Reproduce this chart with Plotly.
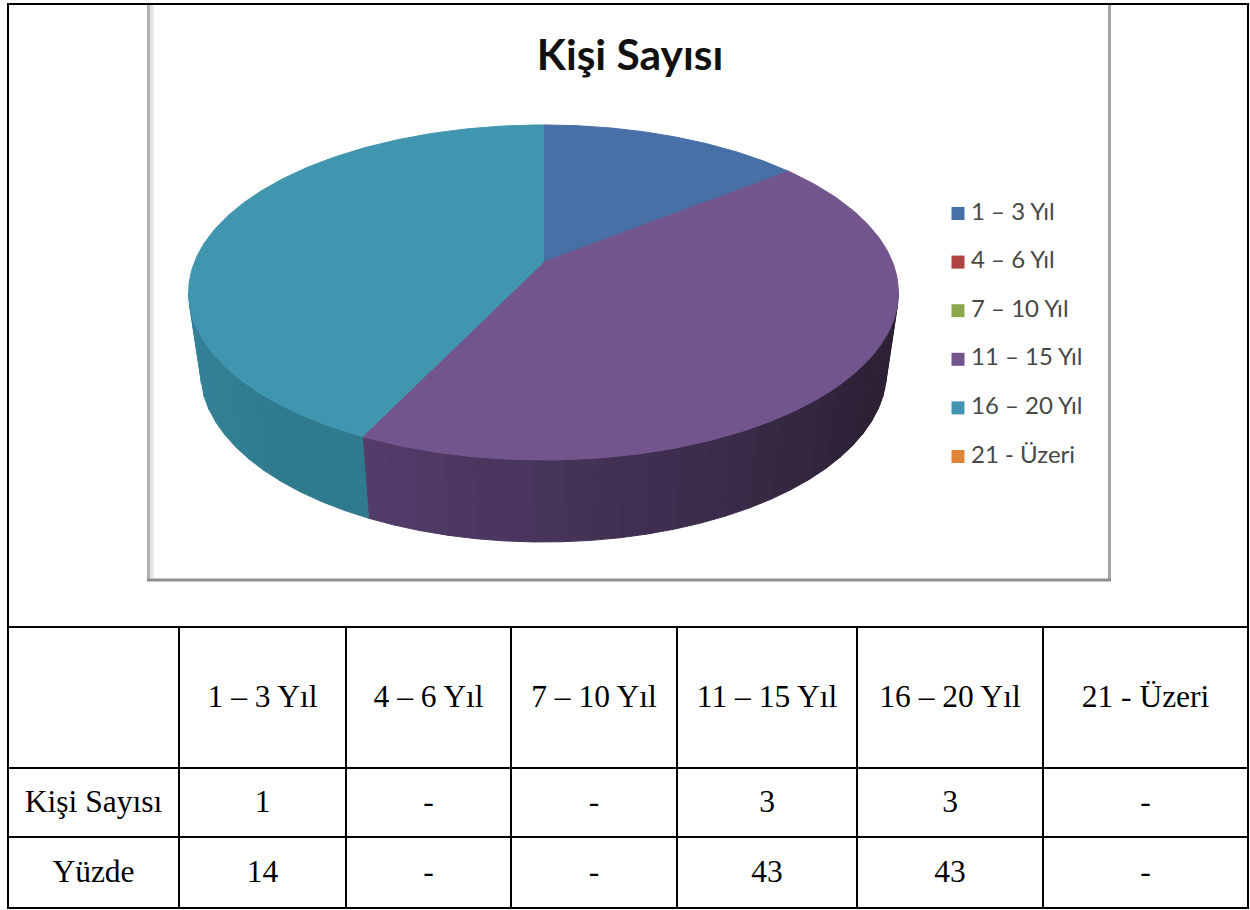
import numpy as np
import plotly.graph_objects as go

# ---- data ----
chart_title = "Kişi Sayısı"
categories = ["1 – 3 Yıl", "4 – 6 Yıl", "7 – 10 Yıl", "11 – 15 Yıl", "16 – 20 Yıl", "21 - Üzeri"]
counts = [1, 0, 0, 3, 3, 0]
count_labels = ["1", "-", "-", "3", "3", "-"]
percent_labels = ["14", "-", "-", "43", "43", "-"]
row_names = ["Kişi Sayısı", "Yüzde"]
slice_colors = ["#4670a6", "#b0423f", "#8aa84a", "#72558c", "#4096ae", "#e0843a"]
side_left = {3: "#553d6c", 4: "#36839a"}
side_right = {3: "#2c2135", 4: "#2f7a8e"}

# ---- layout constants ----
W, H = 1250, 910
col_x = [8, 179, 346, 511, 677, 857, 1043, 1248]
row_y = [4, 627, 768, 837, 908]
frame = (148.5, 4, 1109.5, 580)
apex = (543.5, 262.0)
k, sx, sy = 0.182, 349.0, 162.0
base_sx, base_sy, base_apex_y = 0.966, 1.015, 341.0


def rim(a, fx=1.0, fy=1.0, ay=apex[1]):
    d = 1 + k * np.cos(a)
    return apex[0] + fx * sx * np.sin(a) / d, ay - fy * sy * np.cos(a) / d


def hex_rgb(h):
    return np.array([int(h[i:i + 2], 16) for i in (1, 3, 5)], float)


fig = go.Figure()


def poly(x, y, color, name, lw=1):
    fig.add_trace(go.Scatter(x=x, y=y, mode="lines", fill="toself", fillcolor=color,
                             line=dict(color=color, width=lw), hoverinfo="skip",
                             showlegend=False, name=name))


total = sum(counts)
edges = 2 * np.pi * np.cumsum([0] + counts) / total
vis0 = np.arccos(-k)
vis1 = 2 * np.pi - vis0

# side wall, in shaded bands
for i, c in enumerate(counts):
    if c == 0:
        continue
    lo, hi = max(edges[i], vis0), min(edges[i + 1], vis1)
    if lo >= hi:
        continue
    n = max(2, int((hi - lo) / np.radians(4)))
    bands = np.linspace(lo, hi, n + 1)
    cr, cl = hex_rgb(side_right[i]), hex_rgb(side_left[i])
    for b0, b1 in zip(bands[:-1], bands[1:]):
        t = ((b0 + b1) / 2 - lo) / (hi - lo)
        t = np.clip((t - 0.22) / 0.78, 0, 1)
        col = cr + (cl - cr) * t
        aa = np.linspace(b0, b1, 6)
        xt, yt = rim(aa)
        xb, yb = rim(aa, base_sx, base_sy, base_apex_y)
        poly(np.r_[xt, xb[::-1], xt[0]], np.r_[yt, yb[::-1], yt[0]],
             "rgb(%d,%d,%d)" % tuple(col), categories[i] + " side")

# top face
for i, c in enumerate(counts):
    if c == 0:
        continue
    aa = np.linspace(edges[i], edges[i + 1], 200)
    xr, yr = rim(aa)
    poly(np.r_[apex[0], xr, apex[0]], np.r_[apex[1], yr, apex[1]], slice_colors[i], categories[i])

# legend
leg_y0, leg_dy = 213.5, 48.6
for i, name in enumerate(categories):
    fig.add_trace(go.Scatter(x=[958], y=[leg_y0 + i * leg_dy], mode="markers", showlegend=False,
                             marker=dict(symbol="square", size=13, color=slice_colors[i]), hoverinfo="skip"))
fig.add_trace(go.Scatter(x=[971] * 6, y=[leg_y0 + i * leg_dy for i in range(6)], mode="text",
                         text=categories, textposition="middle right", showlegend=False, hoverinfo="skip",
                         textfont=dict(family="Lato", size=24, color="#484848")))

# table text
cx = [(a + b) / 2 for a, b in zip(col_x[:-1], col_x[1:])]
ry = [(a + b) / 2 + 1.5 for a, b in zip(row_y[1:-1], row_y[2:])]
tx = cx[1:] + cx[1:] + cx[1:] + [cx[0], cx[0]]
ty = [ry[0]] * 6 + [ry[1]] * 6 + [ry[2]] * 6 + [ry[1], ry[2]]
tt = categories + count_labels + percent_labels + row_names
fig.add_trace(go.Scatter(x=tx, y=ty, mode="text", text=tt, textposition="middle center", showlegend=False,
                         hoverinfo="skip", textfont=dict(family="Liberation Serif", size=31.5, color="#000000")))

# title
fig.add_trace(go.Scatter(x=[630], y=[59], mode="text", text=["<b>" + chart_title + "</b>"],
                         textposition="middle center", showlegend=False, hoverinfo="skip",
                         textfont=dict(family="Lato", size=42.5, color="#111111")))

shapes = []
# chart frame, drawn under everything
fx0, fy0, fx1, fy1 = frame
shapes.append(dict(type="line", x0=fx0 + 3, x1=fx0 + 3, y0=fy0, y1=fy1 - 2, layer="below",
                   line=dict(color="#e4e4e4", width=4)))
shapes.append(dict(type="line", x0=fx0, x1=fx0, y0=fy0, y1=fy1, layer="below",
                   line=dict(color="#b0b0b0", width=3)))
shapes.append(dict(type="line", x0=fx1, x1=fx1, y0=fy0, y1=fy1, layer="below",
                   line=dict(color="#a4a4a4", width=3)))
shapes.append(dict(type="line", x0=fx0 - 1.5, x1=fx1 + 1.5, y0=fy1, y1=fy1, layer="below",
                   line=dict(color="#8e8e8e", width=3)))
# table grid
L, R = col_x[0], col_x[-1]
grid = dict(color="#000000", width=2)
for y in row_y:
    shapes.append(dict(type="line", x0=L - 1, x1=R + 1, y0=y, y1=y, line=grid))
for x in [L, R]:
    shapes.append(dict(type="line", x0=x, x1=x, y0=row_y[0], y1=row_y[-1], line=grid))
for x in col_x[1:-1]:
    shapes.append(dict(type="line", x0=x, x1=x, y0=row_y[1], y1=row_y[-1], line=grid))

fig.update_layout(width=W, height=H, margin=dict(l=0, r=0, t=0, b=0), autosize=False,
                  paper_bgcolor="#ffffff", plot_bgcolor="#ffffff", shapes=shapes,
                  xaxis=dict(range=[0, W], visible=False, fixedrange=True),
                  yaxis=dict(range=[H, 0], visible=False, fixedrange=True))

fig.write_html("out.html", config={"displayModeBar": False},
               post_script="document.body.style.margin='0';document.documentElement.style.overflow='hidden';")
